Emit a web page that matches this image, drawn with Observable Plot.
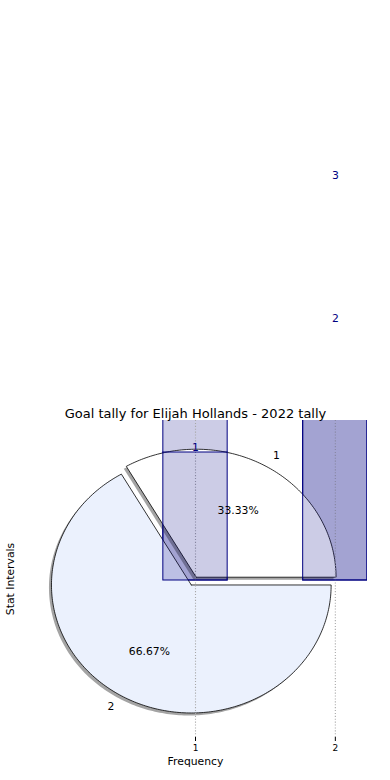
<!DOCTYPE html>
<html>
<head>
<meta charset="utf-8">
<script src="https://cdn.jsdelivr.net/npm/d3@7"></script>
<script src="https://cdn.jsdelivr.net/npm/@observablehq/plot@0.6"></script>
<style>
  html, body { margin: 0; padding: 0; background: #fff; }
  #chart svg { display: block; }
</style>
</head>
<body>
<div id="chart"></div>
<script>
// ---- data ----
const title = "Goal tally for Elijah Hollands - 2022 tally";
const xLabel = "Frequency";
const yLabel = "Stat Intervals";
const categories = [1, 2];           // x positions of bars
const backBars = [2, 3];             // bars drawn beneath the pie
const frontBars = [1, 2];            // bars drawn over the pie
const barLabelX = [1, 2, 2];
const barLabelText = ["1", "2", "3"];
const barLabelY = [1.04, 2.05, 3.16];
const pieValues = [1, 2];
const pieLabels = ["1", "2"];
const pieColors = ["#ffffff", "#ebf1fd"];
const pieExplode = [0.07, 0];
const pieCenter = [0.97, -0.035];
const xTicks = [1, 2];

// ---- derived geometry (from data) ----
const barWidth = 0.46;
const mkBars = vals => vals.map((v, i) => ({x1: categories[i] - barWidth / 2, x2: categories[i] + barWidth / 2, y1: 0, y2: v}));
const backData = mkBars(backBars);
const frontData = mkBars(frontBars);
const barLabels = barLabelText.map((t, i) => ({x: barLabelX[i], y: barLabelY[i], t}));

const total = d3.sum(pieValues);
let acc = 0;
const wedges = pieValues.map((v, i) => {
  const a0 = acc / total * 360; acc += v; const a1 = acc / total * 360;
  const mid = (a0 + a1) / 2 * Math.PI / 180;
  const cx = pieCenter[0] + pieExplode[i] * Math.cos(mid);
  const cy = pieCenter[1] + pieExplode[i] * Math.sin(mid);
  return {i, a0, a1, mid, cx, cy, v};
});
const wedgePts = [];
for (const w of wedges) {
  wedgePts.push({w: w.i, x: w.cx, y: w.cy});
  for (let a = w.a0; a <= w.a1 + 1e-9; a += 1) {
    const r = a * Math.PI / 180;
    wedgePts.push({w: w.i, x: w.cx + Math.cos(r), y: w.cy + Math.sin(r)});
  }
  wedgePts.push({w: w.i, x: w.cx, y: w.cy});
}
const pieText = wedges.map(w => ({
  lx: w.cx + 1.1 * Math.cos(w.mid), ly: w.cy + 1.1 * Math.sin(w.mid),
  px: w.cx + 0.6 * Math.cos(w.mid), py: w.cy + 0.6 * Math.sin(w.mid),
  label: pieLabels[w.i], anchor: Math.cos(w.mid) >= 0 ? "start" : "end",
  pct: (w.v / total * 100).toFixed(2) + "%"
}));

const navy = "#000080";
const font = 10.8;

const wedgeMarks = [];
wedges.forEach(w => {
  wedgeMarks.push(Plot.line(wedgePts.filter(p => p.w === w.i), {x: "x", y: "y", fill: "#4a4a4a", fillOpacity: 0.5, stroke: "none", dx: -2.5, dy: 2.5}));
});
wedges.forEach(w => {
  wedgeMarks.push(Plot.line(wedgePts.filter(p => p.w === w.i), {x: "x", y: "y", fill: pieColors[w.i], stroke: "#000", strokeWidth: 0.8}));
});

const chart = Plot.plot({
  width: 390,
  height: 780,
  marginTop: 420,
  marginBottom: 43,
  marginLeft: 23,
  marginRight: 23,
  style: {fontFamily: "DejaVu Sans", fontSize: "9px", background: "#fff", color: "#000"},
  x: {domain: [-0.23, 2.23], ticks: xTicks, tickFormat: d => String(d), tickSize: 4, tickPadding: 3, label: null},
  y: {domain: [-1.2266, 1.25], axis: null},
  marks: [
    Plot.rect(backData, {x1: "x1", x2: "x2", y1: "y1", y2: "y2", fill: navy, fillOpacity: 0.2, stroke: navy, strokeWidth: 1, clip: true}),
    ...wedgeMarks,
    Plot.ruleX(xTicks, {stroke: "#a8a8a8", strokeWidth: 1.1, strokeDasharray: "1.1,1.8"}),
    Plot.rect(frontData, {x1: "x1", x2: "x2", y1: "y1", y2: "y2", fill: navy, fillOpacity: 0.2, stroke: navy, strokeWidth: 1, clip: true}),
    Plot.text(pieText.filter(d => d.anchor === "start"), {x: "lx", y: "ly", text: "label", textAnchor: "start", fontSize: font, fill: "#000"}),
    Plot.text(pieText.filter(d => d.anchor === "end"), {x: "lx", y: "ly", text: "label", textAnchor: "end", fontSize: font, fill: "#000"}),
    Plot.text(pieText, {x: "px", y: "py", text: "pct", fontSize: font, fill: "#000"}),
    Plot.text(barLabels, {x: "x", y: "y", text: "t", fontSize: font, fill: navy}),
    Plot.text([title], {frameAnchor: "top", dy: -7, lineAnchor: "middle", fontSize: 13, fill: "#000"}),
    Plot.text([xLabel], {frameAnchor: "bottom", dy: 24, lineAnchor: "middle", fontSize: font, fill: "#000"}),
    Plot.text([yLabel], {frameAnchor: "left", dx: -13, rotate: -90, textAnchor: "middle", lineAnchor: "middle", fontSize: font, fill: "#000"})
  ]
});
document.getElementById("chart").appendChild(chart);
</script>
</body>
</html>
